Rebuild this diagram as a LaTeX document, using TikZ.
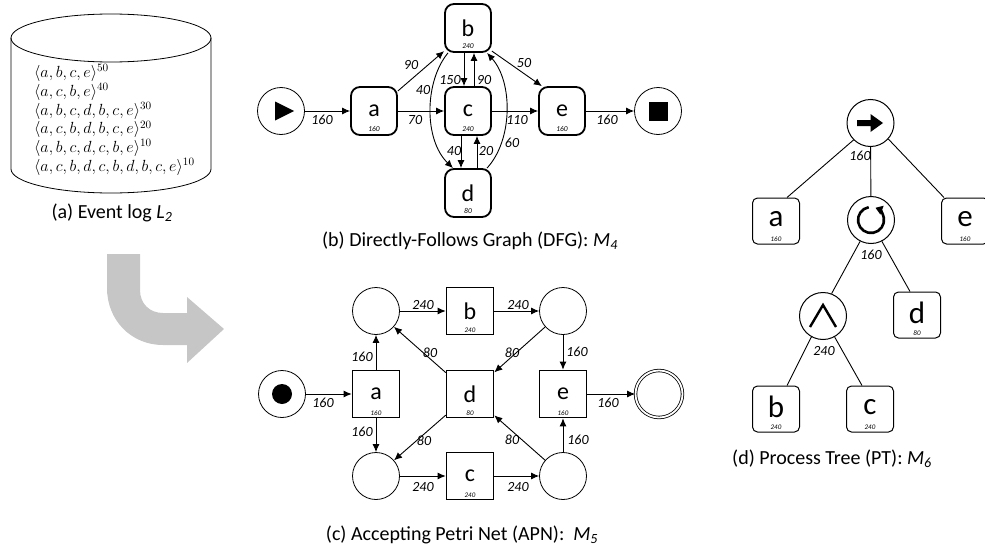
\documentclass[tikz,border=0pt]{standalone}
\usepackage{fontspec}
\setmainfont{Carlito}
\usetikzlibrary{arrows.meta}
\begin{document}
\begin{tikzpicture}[x=1pt,y=-1pt,
  every node/.style={inner sep=0pt},
  arr/.style={-{Latex[length=8pt,width=7pt]}, line width=0.9pt},
  elbl/.style={font=\fontsize{14}{14}\selectfont\itshape},
  captxt/.style={font=\fontsize{20}{20}\selectfont},
  cnt/.style={label={[font=\fontsize{7.5}{7.5}\selectfont\itshape, anchor=south, yshift=4.5pt]south:#1}},
  cntb/.style={label={[font=\fontsize{7}{7}\selectfont\itshape, anchor=south, yshift=2.5pt]south:#1}},
  dfgbox/.style={draw, line width=1.8pt, rounded corners=9pt, minimum width=46pt, minimum height=48pt, font=\fontsize{24}{24}\selectfont},
  trans/.style={draw, line width=1.6pt, minimum width=47pt, minimum height=47pt, font=\fontsize{24}{24}\selectfont},
  place/.style={draw, circle, line width=0.8pt, minimum size=47pt},
  leaf/.style={draw, line width=1pt, rounded corners=5pt, minimum width=47pt, minimum height=46pt, text depth=4pt, font=\fontsize{31}{31}\selectfont},
  tcirc/.style={draw, circle, line width=1pt, minimum size=47pt},
  tline/.style={line width=0.9pt}
]
\useasboundingbox (0,0) rectangle (985,546);

% ---------- (a) event log ----------
\draw[line width=0.8pt] (111,38) ellipse[x radius=100pt, y radius=24pt];
\draw[line width=0.8pt] (11,38) -- (11,169) arc[start angle=180, end angle=360, x radius=100pt, y radius=24pt] -- (211,38);
\node[anchor=west, align=left, scale=1.12, font=\fontsize{14.4}{16.7}\selectfont] (log) at (34,120)
 {$\langle a,b,c,e\rangle^{50}$\\
  $\langle a,c,b,e\rangle^{40}$\\
  $\langle a,b,c,d,b,c,e\rangle^{30}$\\
  $\langle a,c,b,d,b,c,e\rangle^{20}$\\
  $\langle a,b,c,d,c,b,e\rangle^{10}$\\
  $\langle a,c,b,d,c,b,d,b,c,e\rangle^{10}$};
\node[captxt] (capa) at (112,213) {(a) Event log \textit{L}\textsubscript{\itshape 2}};

% gray arrow
\fill[gray!45] (107,254) -- (140,254) -- (140,290) .. controls (140,304) and (150,313) .. (163,313)
  -- (187,313) -- (187,297) -- (224,329) -- (187,363) -- (187,345) -- (163,345)
  .. controls (131,345) and (107,320) .. (107,288) -- cycle;

% ---------- (b) DFG ----------
\node[circle, draw, line width=0.8pt, minimum size=47pt] (s) at (281,111) {};
\begin{scope}[shift={(s.center)}]
  \fill (-6,-9.5) -- (-6,9.5) -- (13,0) -- cycle;
\end{scope}
\node[dfgbox, cnt=160] (a) at (374,111) {a};
\node[dfgbox, cnt=240] (b) at (468,28) {b};
\node[dfgbox, cnt=240] (c) at (468,111) {c};
\node[dfgbox, cnt=80] (d) at (468,193) {d};
\node[dfgbox, cnt=160] (e) at (562,111) {e};
\node[circle, draw, line width=0.8pt, minimum size=47pt] (t) at (658,111) {};
\fill ([shift={(-9.5,-9.5)}]t.center) rectangle ([shift={(9.5,9.5)}]t.center);

\draw[arr] (s) -- (a) node[elbl] at (322,120) {160};
\draw[arr] (a.40) -- (b.224) node[elbl] at (411,65) {90};
\draw[arr] (a) -- (c) node[elbl] at (415,120) {70};
\draw[arr] ([xshift=-4pt]b.south) -- ([xshift=-4pt]c.north) node[elbl] at (450,80) {150};
\draw[arr] ([xshift=6pt]c.north) -- ([xshift=6pt]b.south) node[elbl] at (484,80) {90};
\draw[arr] ([xshift=-7pt]c.south) -- ([xshift=-7pt]d.north) node[elbl] at (454,151) {40};
\draw[arr] ([xshift=9pt]d.north) -- ([xshift=9pt]c.south) node[elbl] at (486,151) {20};
\draw[arr] ([xshift=-20pt]b.south) .. controls (424,82) and (424,140) .. ([xshift=-15pt]d.north) node[elbl] at (423,90) {40};
\draw[arr] ([xshift=19pt]d.north) .. controls (513,140) and (513,82) .. ([xshift=19pt]b.south) node[elbl] at (512,143) {60};
\draw[arr] (b.-44) -- (e.129) node[elbl] at (524,63) {50};
\draw[arr] (c) -- (e) node[elbl] at (517,120) {110};
\draw[arr] (e) -- (t) node[elbl] at (607,120) {160};

\node[captxt] (capb) at (470,241) {(b) Directly-Follows Graph (DFG): \textit{M}\textsubscript{\itshape 4}};

% ---------- (c) APN ----------
\node[place] (i) at (282,394) {};
\fill (i.center) circle (10pt);
\node[trans, cntb=160] (ta) at (376,394) {a};
\node[place] (p1) at (376,311) {};
\node[trans, cntb=240] (tb) at (470,311) {b};
\node[place] (p2) at (563,311) {};
\node[trans, cntb=80] (td) at (470,394) {d};
\node[trans, cntb=160] (te) at (563,394) {e};
\node[place, double, double distance=1.8pt] (f) at (659,394) {};
\node[place] (p3) at (376,476) {};
\node[trans, cntb=240] (tc) at (470,476) {c};
\node[place] (p4) at (563,476) {};

\draw[arr] (i) -- (ta) node[elbl] at (323,403) {160};
\draw[arr] (ta) -- (p1) node[elbl] at (362,357) {160};
\draw[arr] (ta) -- (p3) node[elbl] at (362,432) {160};
\draw[arr] (p1) -- (tb) node[elbl] at (423,305) {240};
\draw[arr] (tb) -- (p2) node[elbl] at (518,305) {240};
\draw[arr] (p2) -- (td) node[elbl] at (512,353) {80};
\draw[arr] (p2) -- (te) node[elbl] at (577,352) {160};
\draw[arr] (td) -- (p1) node[elbl] at (430,353) {80};
\draw[arr] (td) -- (p3) node[elbl] at (424,441) {80};
\draw[arr] (p3) -- (tc) node[elbl] at (423,487) {240};
\draw[arr] (tc) -- (p4) node[elbl] at (518,487) {240};
\draw[arr] (p4) -- (td) node[elbl] at (512,440) {80};
\draw[arr] (p4) -- (te) node[elbl] at (578,440) {160};
\draw[arr] (te) -- (f) node[elbl] at (608,403) {160};

\node[captxt] (capc) at (462,535) {(c) Accepting Petri Net (APN):\ \ \textit{M}\textsubscript{\itshape 5}};

% ---------- (d) process tree ----------
\node[tcirc] (root) at (870.5,123) {};
\begin{scope}[shift={(root.center)}]
  \fill (-13.5,-3) -- (0,-3) -- (0,-9) -- (12.5,0) -- (0,9) -- (0,3) -- (-13.5,3) -- cycle;
\end{scope}
\node[leaf, cntb=160] (la) at (776,221) {a};
\node[tcirc] (loop) at (871,220) {};
\begin{scope}[shift={(loop.center)}]
  \draw[line width=2.6pt, -{Triangle[length=7pt,width=9pt]}] (100:13pt) arc[start angle=100, end angle=430, radius=13pt];
\end{scope}
\node[leaf, cntb=160] (le) at (965,221) {e};
\node[tcirc] (and) at (823,316) {};
\begin{scope}[shift={(and.center)}]
  \draw[line width=2.4pt, line join=miter] (-13,11) -- (0,-11) -- (13,11);
\end{scope}
\node[leaf, cntb=80] (ld) at (917,315) {d};
\node[leaf, cntb=240] (lb) at (776,409) {b};
\node[leaf, cntb=240] (lc) at (870,409) {c};

\draw[tline] (root.225) -- ([xshift=11pt]la.north);
\draw[tline] (root) -- (loop) node[elbl] at (860,156) {160};
\draw[tline] (root.-42) -- ([xshift=-21pt]le.north);
\draw[tline] (loop.243) -- (and.69) node[elbl] at (871,255) {160};
\draw[tline] (loop.-63) -- ([xshift=-7pt]ld.north);
\draw[tline] (and.241) -- ([xshift=11pt]lb.north) node[elbl] at (824,351) {240};
\draw[tline] (and.-61) -- ([xshift=-8pt]lc.north);

\node[captxt] (capd) at (832,459) {(d) Process Tree (PT): \textit{M}\textsubscript{\itshape 6}};
\end{tikzpicture}
\end{document}
